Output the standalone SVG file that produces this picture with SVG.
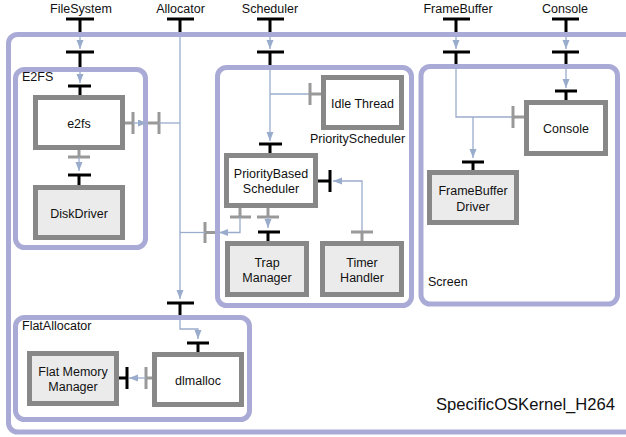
<svg xmlns="http://www.w3.org/2000/svg" width="626" height="437" viewBox="0 0 626 437">
<defs>
<marker id="ah" markerUnits="userSpaceOnUse" markerWidth="10" markerHeight="8" refX="9" refY="3.5" orient="auto">
<path d="M0,0 L9,3.5 L0,7 z" fill="#9aaccc"/>
</marker>
<style>
.cont{fill:none;stroke:#aaaad6;stroke-width:5}
.comp{fill:#ffffff;stroke:#888888;stroke-width:5}
.leaf{fill:#ebebeb;stroke:#888888;stroke-width:5}
.ln{fill:none;stroke:#9aaccc;stroke-width:1.3}
.ar{fill:none;stroke:#9aaccc;stroke-width:1.3;marker-end:url(#ah)}
.bk{fill:none;stroke:#000000;stroke-width:3}
.gr{fill:none;stroke:#999999;stroke-width:3}
text{font-family:"Liberation Sans",Arial,sans-serif;font-size:12.5px;fill:#111}
.c{text-anchor:middle}
</style>
</defs>
<rect width="626" height="437" fill="#ffffff"/>

<g id="SpecificOSKernel_H264">
<rect class="cont" x="8.5" y="34.5" width="640" height="397.5" rx="9"/>
<text x="615" y="410" style="font-size:16.6px;text-anchor:end">SpecificOSKernel_H264</text>
</g>

<g id="E2FS">
<rect class="cont" x="15.5" y="69.5" width="130" height="178" rx="9"/>
<text x="22" y="81">E2FS</text>
</g>
<g id="e2fs">
<rect class="comp" x="35.5" y="97.5" width="87" height="50"/>
<text class="c" x="79" y="128">e2fs</text>
</g>
<g id="DiskDriver">
<rect class="leaf" x="35.5" y="187.5" width="87" height="50"/>
<text class="c" x="79" y="218">DiskDriver</text>
</g>

<g id="PriorityScheduler">
<rect class="cont" x="217.5" y="67.5" width="194" height="238" rx="9"/>
<text class="c" x="357.5" y="143">PriorityScheduler</text>
</g>
<g id="IdleThread">
<rect class="comp" x="323.5" y="77.5" width="78" height="50"/>
<text class="c" x="362.5" y="108">Idle Thread</text>
</g>
<g id="PriorityBasedScheduler">
<rect class="comp" x="226.5" y="155.5" width="89" height="50"/>
<text class="c" x="271" y="178">PriorityBased</text>
<text class="c" x="271" y="193">Scheduler</text>
</g>
<g id="TrapManager">
<rect class="leaf" x="227.5" y="243.5" width="79" height="51"/>
<text class="c" x="267" y="267">Trap</text>
<text class="c" x="267" y="282">Manager</text>
</g>
<g id="TimerHandler">
<rect class="leaf" x="322.5" y="243.5" width="79" height="51"/>
<text class="c" x="362" y="267">Timer</text>
<text class="c" x="362" y="282">Handler</text>
</g>

<g id="Screen">
<rect class="cont" x="421" y="66.5" width="196.5" height="237.5" rx="9"/>
<text x="428" y="286">Screen</text>
</g>
<g id="Console">
<rect class="comp" x="526.5" y="102.5" width="79" height="51"/>
<text class="c" x="566" y="133">Console</text>
</g>
<g id="FrameBufferDriver">
<rect class="leaf" x="429.5" y="172.5" width="87" height="50"/>
<text class="c" x="473" y="195">FrameBuffer</text>
<text class="c" x="473" y="211">Driver</text>
</g>

<g id="FlatAllocator">
<rect class="cont" x="15.5" y="317.5" width="234" height="102" rx="9"/>
<text x="22" y="330">FlatAllocator</text>
</g>
<g id="dlmalloc">
<rect class="comp" x="154.5" y="354.5" width="87" height="50"/>
<text class="c" x="198" y="385">dlmalloc</text>
</g>
<g id="FlatMemoryManager">
<rect class="leaf" x="29.5" y="353.5" width="87" height="50"/>
<text class="c" x="73" y="376">Flat Memory</text>
<text class="c" x="73" y="391">Manager</text>
</g>

<g id="labels">
<text class="c" x="81" y="13">FileSystem</text>
<text class="c" x="180.5" y="13">Allocator</text>
<text class="c" x="270" y="13">Scheduler</text>
<text class="c" x="458" y="13">FrameBuffer</text>
<text class="c" x="565" y="13">Console</text>
</g>

<g id="connectors">
<!-- FileSystem -->
<path class="bk" d="M66,19 H94 M80,19 V32"/>
<path class="ar" d="M80,37 V49"/>
<path class="bk" d="M66,52 H94 M80,52 V67"/>
<path class="ar" d="M80,72 V83"/>
<path class="bk" d="M68,86 H91 M80,86 V95"/>
<!-- e2fs to DiskDriver -->
<path class="gr" d="M79,150 V157 M68,157 H90"/>
<path class="ar" d="M79,157 V171"/>
<path class="bk" d="M68,175 H91 M79,175 V185"/>
<!-- e2fs to Allocator -->
<path class="gr" d="M125,123 H133 M133,112 V134"/>
<path class="ar" d="M133,123 H147"/>
<path class="gr" d="M148,123 H159 M159,112 V134"/>
<path class="ln" d="M159,123 H180"/>
<!-- Allocator -->
<path class="bk" d="M167,19 H194 M180,19 V32"/>
<path class="ar" d="M180,37 V299"/>
<path class="bk" d="M167,303 H194 M180,303 V315"/>
<path class="ar" d="M180,320 V329 H198 V339"/>
<path class="bk" d="M187,343 H209 M198,343 V352"/>
<!-- dlmalloc to FlatMemoryManager -->
<path class="gr" d="M152,378 H146 M146,367 V389"/>
<path class="ar" d="M146,378 H129"/>
<path class="bk" d="M119,378 H127 M127,367 V389"/>
<!-- Scheduler -->
<path class="bk" d="M257,19 H284 M270,19 V32"/>
<path class="ar" d="M270,37 V49"/>
<path class="bk" d="M257,52 H284 M270,52 V65"/>
<path class="ar" d="M270,70 V141"/>
<path class="ln" d="M270,94 H310"/>
<path class="gr" d="M310,83 V105 M310,94 H321"/>
<path class="bk" d="M259,144 H282 M270,144 V153"/>
<!-- TimerHandler to PBS -->
<path class="bk" d="M318,181 H330 M330,170 V192"/>
<path class="ar" d="M362,232 V181 H333"/>
<path class="gr" d="M351,232 H373 M362,232 V241"/>
<!-- PBS to TrapManager -->
<path class="gr" d="M268,208 V217 M257,217 H279"/>
<path class="ar" d="M268,217 V228"/>
<path class="bk" d="M258,232 H280 M268,232 V241"/>
<!-- PBS to Allocator -->
<path class="gr" d="M240,208 V217 M230,217 H251"/>
<path class="ar" d="M240,217 V232.5 H219"/>
<path class="gr" d="M215,232.5 H205 M205,222 V243"/>
<path class="ln" d="M205,232.5 H180"/>
<!-- FrameBuffer -->
<path class="bk" d="M443,19 H470 M456,19 V32"/>
<path class="ar" d="M456,37 V49"/>
<path class="bk" d="M443,52 H470 M456,52 V64"/>
<path class="ln" d="M456,69 V117 H513"/>
<path class="ar" d="M473,117 V158"/>
<path class="bk" d="M462,162 H484 M473,162 V170"/>
<path class="gr" d="M513,106 V128 M513,117 H524"/>
<!-- Console -->
<path class="bk" d="M552,19 H579 M566,19 V32"/>
<path class="ar" d="M566,37 V49"/>
<path class="bk" d="M552,52 H579 M566,52 V64"/>
<path class="ar" d="M566,69 V88"/>
<path class="bk" d="M555,91 H577 M566,91 V100"/>
</g>
</svg>
